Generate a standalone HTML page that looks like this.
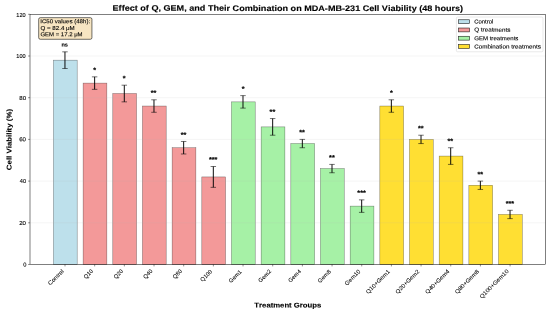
<!DOCTYPE html>
<html><head><meta charset="utf-8"><title>Effect of Q, GEM, and Their Combination on MDA-MB-231 Cell Viability</title>
<style>html,body{margin:0;padding:0;background:#fff;width:550px;height:314px;overflow:hidden}
svg{display:block;will-change:transform;}
text{font-family:"Liberation Sans",sans-serif;fill:#000;font-kerning:none;font-variant-ligatures:none}</style></head>
<body><svg width="550" height="314" viewBox="0 0 550 314">

<rect width="550" height="314" fill="#fff"/>
<g>
<rect x="53.442" y="60.17" width="23.738" height="204.326" fill="rgb(173,216,230)" fill-opacity="0.8" stroke="rgba(0,0,0,0.5)" stroke-width="0.5"/>
<rect x="83.114" y="83.105" width="23.738" height="181.391" fill="rgb(240,128,128)" fill-opacity="0.8" stroke="rgba(0,0,0,0.5)" stroke-width="0.5"/>
<rect x="112.786" y="93.529" width="23.738" height="170.967" fill="rgb(240,128,128)" fill-opacity="0.8" stroke="rgba(0,0,0,0.5)" stroke-width="0.5"/>
<rect x="142.458" y="106.039" width="23.738" height="158.457" fill="rgb(240,128,128)" fill-opacity="0.8" stroke="rgba(0,0,0,0.5)" stroke-width="0.5"/>
<rect x="172.13" y="147.738" width="23.738" height="116.758" fill="rgb(240,128,128)" fill-opacity="0.8" stroke="rgba(0,0,0,0.5)" stroke-width="0.5"/>
<rect x="201.803" y="176.928" width="23.738" height="87.568" fill="rgb(240,128,128)" fill-opacity="0.8" stroke="rgba(0,0,0,0.5)" stroke-width="0.5"/>
<rect x="231.475" y="101.869" width="23.738" height="162.627" fill="rgb(144,238,144)" fill-opacity="0.8" stroke="rgba(0,0,0,0.5)" stroke-width="0.5"/>
<rect x="261.147" y="126.889" width="23.738" height="137.607" fill="rgb(144,238,144)" fill-opacity="0.8" stroke="rgba(0,0,0,0.5)" stroke-width="0.5"/>
<rect x="290.819" y="143.568" width="23.738" height="120.928" fill="rgb(144,238,144)" fill-opacity="0.8" stroke="rgba(0,0,0,0.5)" stroke-width="0.5"/>
<rect x="320.491" y="168.588" width="23.738" height="95.908" fill="rgb(144,238,144)" fill-opacity="0.8" stroke="rgba(0,0,0,0.5)" stroke-width="0.5"/>
<rect x="350.163" y="206.117" width="23.738" height="58.379" fill="rgb(144,238,144)" fill-opacity="0.8" stroke="rgba(0,0,0,0.5)" stroke-width="0.5"/>
<rect x="379.835" y="106.039" width="23.738" height="158.457" fill="rgb(255,215,0)" fill-opacity="0.8" stroke="rgba(0,0,0,0.5)" stroke-width="0.5"/>
<rect x="409.507" y="139.399" width="23.738" height="125.098" fill="rgb(255,215,0)" fill-opacity="0.8" stroke="rgba(0,0,0,0.5)" stroke-width="0.5"/>
<rect x="439.179" y="156.078" width="23.738" height="108.418" fill="rgb(255,215,0)" fill-opacity="0.8" stroke="rgba(0,0,0,0.5)" stroke-width="0.5"/>
<rect x="468.851" y="185.268" width="23.738" height="79.228" fill="rgb(255,215,0)" fill-opacity="0.8" stroke="rgba(0,0,0,0.5)" stroke-width="0.5"/>
<rect x="498.523" y="214.457" width="23.738" height="50.039" fill="rgb(255,215,0)" fill-opacity="0.8" stroke="rgba(0,0,0,0.5)" stroke-width="0.5"/>
<line x1="30.001" y1="222.797" x2="545.702" y2="222.797" stroke="#b0b0b0" stroke-opacity="0.3" stroke-width="0.438"/>
<line x1="30.001" y1="181.098" x2="545.702" y2="181.098" stroke="#b0b0b0" stroke-opacity="0.3" stroke-width="0.438"/>
<line x1="30.001" y1="139.399" x2="545.702" y2="139.399" stroke="#b0b0b0" stroke-opacity="0.3" stroke-width="0.438"/>
<line x1="30.001" y1="97.699" x2="545.702" y2="97.699" stroke="#b0b0b0" stroke-opacity="0.3" stroke-width="0.438"/>
<line x1="30.001" y1="56" x2="545.702" y2="56" stroke="#b0b0b0" stroke-opacity="0.3" stroke-width="0.438"/>
<path d="M64.961 68.51V51.83M94.633 89.359V76.85M124.305 101.869V85.19M153.977 112.294V99.784M183.649 153.993V141.483M213.321 187.353V166.503M242.993 108.124V95.614M272.665 135.229V118.549M302.337 147.738V139.399M332.01 172.758V164.418M361.682 212.372V199.862M391.354 112.294V99.784M421.026 143.568V135.229M450.698 164.418V147.738M480.37 189.438V181.098M510.042 218.627V210.287" stroke="#000" stroke-width="0.95" fill="none"/>
<path d="M62.228 68.51h5.466M91.9 89.359h5.466M121.572 101.869h5.466M151.244 112.294h5.466M180.916 153.993h5.466M210.588 187.353h5.466M240.26 108.124h5.466M269.932 135.229h5.466M299.604 147.738h5.466M329.276 172.758h5.466M358.949 212.372h5.466M388.621 112.294h5.466M418.293 143.568h5.466M447.965 164.418h5.466M477.637 189.438h5.466M507.309 218.627h5.466M62.228 51.83h5.466M91.9 76.85h5.466M121.572 85.19h5.466M151.244 99.784h5.466M180.916 141.483h5.466M210.588 166.503h5.466M240.26 95.614h5.466M269.932 118.549h5.466M299.604 139.399h5.466M329.276 164.418h5.466M358.949 199.862h5.466M388.621 99.784h5.466M418.293 135.229h5.466M447.965 147.738h5.466M477.637 181.098h5.466M507.309 210.287h5.466" stroke="#000" stroke-width="0.548" fill="none"/>
<rect x="30.001" y="14.301" width="515.7" height="250.195" fill="none" stroke="#000" stroke-width="0.5"/>
<path d="M30.001 264.496h-1.913M30.001 222.797h-1.913M30.001 181.098h-1.913M30.001 139.399h-1.913M30.001 97.699h-1.913M30.001 56h-1.913M30.001 14.301h-1.913M65.011 264.496v1.92M94.683 264.496v1.92M124.355 264.496v1.92M154.027 264.496v1.92M183.699 264.496v1.92M213.371 264.496v1.92M243.043 264.496v1.92M272.715 264.496v1.92M302.387 264.496v1.92M332.06 264.496v1.92M361.732 264.496v1.92M391.404 264.496v1.92M421.076 264.496v1.92M450.748 264.496v1.92M480.42 264.496v1.92M510.092 264.496v1.92" stroke="#000" stroke-width="0.438" fill="none"/>
<path d="M40.315 39.282L90.297 39.282Q91.937 39.282 91.937 37.636L91.937 19.305Q91.937 17.659 90.297 17.659L40.315 17.659Q38.676 17.659 38.676 19.305L38.676 37.636Q38.676 39.282 40.315 39.282Z" fill="rgb(245,222,179)" fill-opacity="0.8" stroke="rgb(0,0,0)" stroke-opacity="0.8" stroke-width="0.7"/>
<text x="112.572" y="10.917" font-size="8.05" font-weight="bold" textLength="350.541" lengthAdjust="spacingAndGlyphs" stroke="#000" stroke-width="0.12" transform="matrix(1 0.0005 0 1 0 -0.1439)">Effect of Q, GEM, and Their Combination on MDA-MB-231 Cell Viability (48 hours)</text>
<text x="254.38" y="307.614" font-size="6.9" font-weight="bold" textLength="66.916" lengthAdjust="spacingAndGlyphs" stroke="#000" stroke-width="0.12" transform="matrix(1 0.0005 0 1 0 -0.1439)">Treatment Groups</text>
<text x="11.457" y="170.145" font-size="6.9" font-weight="bold" textLength="61.157" lengthAdjust="spacingAndGlyphs" stroke="#000" stroke-width="0.12" transform="rotate(-89.97 11.457 170.145)">Cell Viability (%)</text>
<text x="23.222" y="266.617" font-size="5.75" font-weight="normal" textLength="3.206" lengthAdjust="spacingAndGlyphs" stroke="#000" stroke-width="0.11" transform="matrix(1 0.0005 0 1 0 -0.0124)">0</text>
<text x="19.202" y="225.136" font-size="5.75" font-weight="normal" textLength="6.848" lengthAdjust="spacingAndGlyphs" stroke="#000" stroke-width="0.11" transform="matrix(1 0.0005 0 1 0 -0.0113)">20</text>
<text x="19.776" y="183.259" font-size="5.75" font-weight="normal" textLength="6.253" lengthAdjust="spacingAndGlyphs" stroke="#000" stroke-width="0.11" transform="matrix(1 0.0005 0 1 0 -0.0115)">40</text>
<text x="19.199" y="141.383" font-size="5.75" font-weight="normal" textLength="6.851" lengthAdjust="spacingAndGlyphs" stroke="#000" stroke-width="0.11" transform="matrix(1 0.0005 0 1 0 -0.0113)">60</text>
<text x="19.246" y="99.901" font-size="5.75" font-weight="normal" textLength="6.802" lengthAdjust="spacingAndGlyphs" stroke="#000" stroke-width="0.11" transform="matrix(1 0.0005 0 1 0 -0.0113)">80</text>
<text x="16.332" y="58.025" font-size="5.75" font-weight="normal" textLength="9.301" lengthAdjust="spacingAndGlyphs" stroke="#000" stroke-width="0.11" transform="matrix(1 0.0005 0 1 0 -0.0105)">100</text>
<text x="16.332" y="16.544" font-size="5.75" font-weight="normal" textLength="9.301" lengthAdjust="spacingAndGlyphs" stroke="#000" stroke-width="0.11" transform="matrix(1 0.0005 0 1 0 -0.0105)">120</text>
<text x="50.308" y="285.597" font-size="5.75" font-weight="normal" textLength="19.514" lengthAdjust="spacingAndGlyphs" stroke="#000" stroke-width="0.05" transform="rotate(-45 50.308 285.597)">Control</text>
<text x="86.034" y="279.13" font-size="5.75" font-weight="normal" textLength="10.642" lengthAdjust="spacingAndGlyphs" stroke="#000" stroke-width="0.05" transform="rotate(-45 86.034 279.13)">Q10</text>
<text x="115.945" y="279.13" font-size="5.75" font-weight="normal" textLength="10.642" lengthAdjust="spacingAndGlyphs" stroke="#000" stroke-width="0.05" transform="rotate(-45 115.945 279.13)">Q20</text>
<text x="145.462" y="279.13" font-size="5.75" font-weight="normal" textLength="10.642" lengthAdjust="spacingAndGlyphs" stroke="#000" stroke-width="0.05" transform="rotate(-45 145.462 279.13)">Q40</text>
<text x="174.979" y="279.13" font-size="5.75" font-weight="normal" textLength="10.642" lengthAdjust="spacingAndGlyphs" stroke="#000" stroke-width="0.05" transform="rotate(-45 174.979 279.13)">Q80</text>
<text x="202.525" y="281.899" font-size="5.75" font-weight="normal" textLength="13.997" lengthAdjust="spacingAndGlyphs" stroke="#000" stroke-width="0.05" transform="rotate(-45 202.525 281.899)">Q100</text>
<text x="231.012" y="283.262" font-size="5.75" font-weight="normal" textLength="15.743" lengthAdjust="spacingAndGlyphs" stroke="#000" stroke-width="0.05" transform="rotate(-45 231.012 283.262)">Gem1</text>
<text x="260.528" y="282.867" font-size="5.75" font-weight="normal" textLength="15.757" lengthAdjust="spacingAndGlyphs" stroke="#000" stroke-width="0.05" transform="rotate(-45 260.528 282.867)">Gem2</text>
<text x="290.44" y="282.865" font-size="5.75" font-weight="normal" textLength="15.629" lengthAdjust="spacingAndGlyphs" stroke="#000" stroke-width="0.05" transform="rotate(-45 290.44 282.865)">Gem4</text>
<text x="319.953" y="283.266" font-size="5.75" font-weight="normal" textLength="16.001" lengthAdjust="spacingAndGlyphs" stroke="#000" stroke-width="0.05" transform="rotate(-45 319.953 283.266)">Gem8</text>
<text x="347.106" y="285.634" font-size="5.75" font-weight="normal" textLength="19.326" lengthAdjust="spacingAndGlyphs" stroke="#000" stroke-width="0.05" transform="rotate(-45 347.106 285.634)">Gem10</text>
<text x="368.189" y="294.142" font-size="5.75" font-weight="normal" textLength="31.365" lengthAdjust="spacingAndGlyphs" stroke="#000" stroke-width="0.05" transform="rotate(-45 368.189 294.142)">Q10+Gem1</text>
<text x="397.706" y="294.142" font-size="5.75" font-weight="normal" textLength="31.379" lengthAdjust="spacingAndGlyphs" stroke="#000" stroke-width="0.05" transform="rotate(-45 397.706 294.142)">Q20+Gem2</text>
<text x="427.623" y="294.151" font-size="5.75" font-weight="normal" textLength="31.529" lengthAdjust="spacingAndGlyphs" stroke="#000" stroke-width="0.05" transform="rotate(-45 427.623 294.151)">Q40+Gem4</text>
<text x="457.132" y="294.143" font-size="5.75" font-weight="normal" textLength="31.621" lengthAdjust="spacingAndGlyphs" stroke="#000" stroke-width="0.05" transform="rotate(-45 457.132 294.143)">Q80+Gem8</text>
<text x="481.92" y="298.88" font-size="5.75" font-weight="normal" textLength="38.567" lengthAdjust="spacingAndGlyphs" stroke="#000" stroke-width="0.05" transform="rotate(-45 481.92 298.88)">Q100+Gem10</text>
<text x="61.442" y="46.459" font-size="5.589" font-weight="bold" textLength="6.5" lengthAdjust="spacingAndGlyphs" stroke="#000" stroke-width="0.12" transform="matrix(1 0.0005 0 1 0 -0.0323)">ns</text>
<text x="93.355" y="72.419" font-size="7.245" font-weight="bold" textLength="2.82" lengthAdjust="spacingAndGlyphs" stroke="#000" stroke-width="0.2" transform="matrix(1 0.0005 0 1 0 -0.0474)">*</text>
<text x="122.872" y="80.716" font-size="7.245" font-weight="bold" textLength="2.82" lengthAdjust="spacingAndGlyphs" stroke="#000" stroke-width="0.2" transform="matrix(1 0.0005 0 1 0 -0.0621)">*</text>
<text x="150.783" y="95.333" font-size="7.245" font-weight="bold" textLength="5.639" lengthAdjust="spacingAndGlyphs" stroke="#000" stroke-width="0.2" transform="matrix(1 0.0005 0 1 0 -0.0768)">**</text>
<text x="180.693" y="137.209" font-size="7.245" font-weight="bold" textLength="5.639" lengthAdjust="spacingAndGlyphs" stroke="#000" stroke-width="0.2" transform="matrix(1 0.0005 0 1 0 -0.0918)">**</text>
<text x="208.997" y="162.098" font-size="7.245" font-weight="bold" textLength="8.459" lengthAdjust="spacingAndGlyphs" stroke="#000" stroke-width="0.2" transform="matrix(1 0.0005 0 1 0 -0.1066)">***</text>
<text x="241.727" y="91.382" font-size="7.245" font-weight="bold" textLength="2.82" lengthAdjust="spacingAndGlyphs" stroke="#000" stroke-width="0.2" transform="matrix(1 0.0005 0 1 0 -0.1216)">*</text>
<text x="269.638" y="114.296" font-size="7.245" font-weight="bold" textLength="5.639" lengthAdjust="spacingAndGlyphs" stroke="#000" stroke-width="0.2" transform="matrix(1 0.0005 0 1 0 -0.1362)">**</text>
<text x="299.155" y="134.839" font-size="7.245" font-weight="bold" textLength="5.639" lengthAdjust="spacingAndGlyphs" stroke="#000" stroke-width="0.2" transform="matrix(1 0.0005 0 1 0 -0.1510)">**</text>
<text x="329.065" y="160.123" font-size="7.245" font-weight="bold" textLength="5.639" lengthAdjust="spacingAndGlyphs" stroke="#000" stroke-width="0.2" transform="matrix(1 0.0005 0 1 0 -0.1659)">**</text>
<text x="357.369" y="195.283" font-size="7.245" font-weight="bold" textLength="8.459" lengthAdjust="spacingAndGlyphs" stroke="#000" stroke-width="0.2" transform="matrix(1 0.0005 0 1 0 -0.1808)">***</text>
<text x="390.1" y="95.333" font-size="7.245" font-weight="bold" textLength="2.82" lengthAdjust="spacingAndGlyphs" stroke="#000" stroke-width="0.2" transform="matrix(1 0.0005 0 1 0 -0.1958)">*</text>
<text x="418.01" y="130.888" font-size="7.245" font-weight="bold" textLength="5.639" lengthAdjust="spacingAndGlyphs" stroke="#000" stroke-width="0.2" transform="matrix(1 0.0005 0 1 0 -0.2104)">**</text>
<text x="447.527" y="143.53" font-size="7.245" font-weight="bold" textLength="5.639" lengthAdjust="spacingAndGlyphs" stroke="#000" stroke-width="0.2" transform="matrix(1 0.0005 0 1 0 -0.2252)">**</text>
<text x="477.437" y="176.715" font-size="7.245" font-weight="bold" textLength="5.639" lengthAdjust="spacingAndGlyphs" stroke="#000" stroke-width="0.2" transform="matrix(1 0.0005 0 1 0 -0.2401)">**</text>
<text x="505.741" y="205.95" font-size="7.245" font-weight="bold" textLength="8.459" lengthAdjust="spacingAndGlyphs" stroke="#000" stroke-width="0.2" transform="matrix(1 0.0005 0 1 0 -0.2550)">***</text>
<text x="40.2" y="23.164" font-size="5.75" font-weight="normal" textLength="49.924" lengthAdjust="spacingAndGlyphs" stroke="#000" stroke-width="0.11" transform="matrix(1 0.0005 0 1 0 -0.0326)">IC50 values (48h):</text>
<text x="40.471" y="30.045" font-size="5.75" font-weight="normal" textLength="34.252" lengthAdjust="spacingAndGlyphs" stroke="#000" stroke-width="0.11" transform="matrix(1 0.0005 0 1 0 -0.0288)">Q = 82.4 μM</text>
<text x="40.463" y="36.366" font-size="5.75" font-weight="normal" textLength="42.115" lengthAdjust="spacingAndGlyphs" stroke="#000" stroke-width="0.11" transform="matrix(1 0.0005 0 1 0 -0.0308)">GEM = 17.2 μM</text>
<path d="M457.528 51.788L541.875 51.788Q542.969 51.788 542.969 50.69L542.969 18.142Q542.969 17.044 541.875 17.044L457.528 17.044Q456.435 17.044 456.435 18.142L456.435 50.69Q456.435 51.788 457.528 51.788Z" fill="rgb(255,255,255)" fill-opacity="0.8" stroke="rgb(204,204,204)" stroke-opacity="0.8" stroke-width="0.548"/>
<rect x="458.621" y="19.744" width="10.932" height="3.841" fill="rgb(173,216,230)" fill-opacity="0.8" stroke="rgba(0,0,0,0.8)" stroke-width="0.65"/>
<rect x="458.621" y="28.018" width="10.932" height="3.841" fill="rgb(240,128,128)" fill-opacity="0.8" stroke="rgba(0,0,0,0.8)" stroke-width="0.65"/>
<rect x="458.621" y="36.293" width="10.932" height="3.841" fill="rgb(144,238,144)" fill-opacity="0.8" stroke="rgba(0,0,0,0.8)" stroke-width="0.65"/>
<rect x="458.621" y="44.567" width="10.932" height="3.841" fill="rgb(255,215,0)" fill-opacity="0.8" stroke="rgba(0,0,0,0.8)" stroke-width="0.65"/>
<text x="474.164" y="23.533" font-size="5.75" font-weight="normal" textLength="19.199" lengthAdjust="spacingAndGlyphs" stroke="#000" stroke-width="0.11" transform="matrix(1 0.0005 0 1 0 -0.2419)">Control</text>
<text x="474.169" y="31.633" font-size="5.75" font-weight="normal" textLength="36.34" lengthAdjust="spacingAndGlyphs" stroke="#000" stroke-width="0.11" transform="matrix(1 0.0005 0 1 0 -0.2462)">Q treatments</text>
<text x="474.161" y="40.247" font-size="5.75" font-weight="normal" textLength="44.211" lengthAdjust="spacingAndGlyphs" stroke="#000" stroke-width="0.11" transform="matrix(1 0.0005 0 1 0 -0.2481)">GEM treatments</text>
<text x="474.148" y="48.422" font-size="5.75" font-weight="normal" textLength="66.665" lengthAdjust="spacingAndGlyphs" stroke="#000" stroke-width="0.11" transform="matrix(1 0.0005 0 1 0 -0.2537)">Combination treatments</text>
</g>
</svg></body></html>
